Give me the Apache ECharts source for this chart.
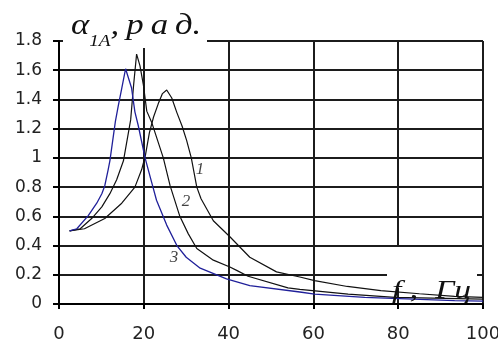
<!DOCTYPE html>
<html>
<head>
<meta charset="utf-8">
<script src="https://cdn.jsdelivr.net/npm/echarts@6/dist/echarts.min.js"></script>
<style>
  html, body { margin: 0; padding: 0; background: #fff; }
  #chart { width: 498px; height: 344px; }
</style>
</head>
<body>
<div id="chart"></div>
<script>
// curve 1
const freq1 = [2.5, 6, 10.8, 14.8, 17.9, 19.5, 20.4, 21.3, 22.3, 23.4, 24.4, 25.4, 26.6, 27.8, 29, 30.1, 31.2, 32.5, 33.5, 36.4, 40.3, 45, 51.3, 56.8, 60.3, 68, 75.9, 85, 93.3, 100];
const alpha1 = [0.5, 0.515, 0.585, 0.69, 0.8, 0.92, 1.02, 1.17, 1.28, 1.37, 1.44, 1.465, 1.41, 1.31, 1.22, 1.12, 1.0, 0.8, 0.72, 0.57, 0.46, 0.32, 0.22, 0.185, 0.16, 0.12, 0.092, 0.07, 0.052, 0.045];
// curve 2
const freq2 = [2.5, 5, 7.7, 10.1, 12, 13.6, 15.2, 16.9, 17.6, 18.3, 19.1, 19.9, 20.7, 21.9, 24.6, 26.2, 28.5, 30.5, 32.5, 36.4, 40.3, 41.9, 44.6, 54, 56.8, 68.2, 79.2, 100];
const alpha2 = [0.5, 0.515, 0.585, 0.665, 0.755, 0.85, 0.98, 1.26, 1.5, 1.71, 1.63, 1.5, 1.32, 1.24, 1.0, 0.81, 0.6, 0.48, 0.38, 0.3, 0.253, 0.23, 0.19, 0.11, 0.1, 0.068, 0.045, 0.034];
// curve 3 (blue)
const freq3 = [2.5, 4.2, 6.9, 8.9, 10.1, 10.8, 11.6, 12, 13.3, 14, 14.8, 15.7, 17.1, 17.9, 18.7, 20.3, 21.6, 23, 25.4, 27.8, 30, 33.3, 39.5, 45, 56.8, 60.3, 72.1, 93.3, 100];
const alpha3 = [0.5, 0.515, 0.605, 0.69, 0.755, 0.81, 0.92, 0.98, 1.25, 1.36, 1.475, 1.61, 1.48, 1.315, 1.22, 1.0, 0.86, 0.71, 0.54, 0.4, 0.32, 0.245, 0.172, 0.126, 0.082, 0.068, 0.045, 0.023, 0.02];

// curve numbers
const labelText = ['1', '2', '3'];
const labelFreq = [33.25, 29.95, 27.1];
const labelAlpha = [0.923, 0.703, 0.316];

const yTicks = { min: 0, max: 1.8, interval: 0.2 };
const xTicks = { min: 0, max: 100, interval: 20 };

function pairs (xs, ys) {
  return xs.map(function (x, i) { return [x, ys[i]]; });
}

const chart = echarts.init(document.getElementById('chart'), null, { renderer: 'canvas' });

const lineBase = {
  type: 'line',
  symbol: 'none',
  smooth: false,
  silent: true,
  z: 3
};

// grid lines are ~2px in the picture
const gridLine = { color: '#1c1c1c', width: 2 };

const option = {
  backgroundColor: '#fff',
  animation: false,
  grid: { left: 59, right: 15, top: 41, bottom: 40, outerBoundsMode: 'none', containLabel: false },
  xAxis: {
    type: 'value',
    min: xTicks.min,
    max: xTicks.max,
    interval: xTicks.interval,
    axisLine: { show: true, onZero: false, lineStyle: { color: '#000', width: 2 } },
    axisTick: { show: true, length: 5, lineStyle: { color: '#000', width: 2 } },
    axisLabel: {
      margin: 21,
      color: '#222',
      fontFamily: 'DejaVu Sans',
      fontSize: 18,
      showMaxLabel: true,
      hideOverlap: false
    },
    splitLine: { show: true, lineStyle: gridLine }
  },
  yAxis: {
    type: 'value',
    min: yTicks.min,
    max: yTicks.max,
    interval: yTicks.interval,
    axisLine: { show: true, lineStyle: { color: '#000', width: 2 } },
    axisTick: { show: true, length: 6, lineStyle: { color: '#000', width: 2 } },
    axisLabel: {
      margin: 17,
      color: '#222',
      fontFamily: 'DejaVu Sans',
      fontSize: 17
    },
    splitLine: { show: true, lineStyle: gridLine }
  },
  series: [
    Object.assign({}, lineBase, {
      name: '1',
      data: pairs(freq1, alpha1),
      lineStyle: { color: '#111', width: 1.2 }
    }),
    Object.assign({}, lineBase, {
      name: '2',
      data: pairs(freq2, alpha2),
      lineStyle: { color: '#111', width: 1.2 }
    }),
    Object.assign({}, lineBase, {
      name: '3',
      data: pairs(freq3, alpha3),
      lineStyle: { color: '#20209a', width: 1.3 }
    }),
    {
      type: 'scatter',
      symbolSize: 0,
      silent: true,
      z: 5,
      data: pairs(labelFreq, labelAlpha).map(function (p, i) {
        return { value: p, label: { formatter: labelText[i] } };
      }),
      label: {
        show: true,
        position: 'inside',
        color: '#111',
        fontFamily: 'Liberation Serif',
        fontStyle: 'italic',
        fontSize: 17
      }
    }
  ],
  graphic: [
    // y title on a white patch over the top grid line
    {
      type: 'rect',
      z: 10,
      shape: { x: 63, y: 0, width: 144, height: 48 },
      style: { fill: '#fff' }
    },
    {
      type: 'text',
      z: 11,
      x: 71,
      y: 41,
      scaleX: 1.2,
      style: {
        text: '{a|α}{s|1А}{a|,\u2009р\u2009а\u2009д.}',
        verticalAlign: 'bottom',
        fill: '#111',
        rich: {
          a: { fontFamily: 'Liberation Serif', fontStyle: 'italic', fontSize: 29, fill: '#111', verticalAlign: 'bottom' },
          s: { fontFamily: 'Liberation Serif', fontStyle: 'italic', fontSize: 16, fill: '#111', verticalAlign: 'bottom', padding: [0, 0, -9, 0] }
        }
      }
    },
    // x title
    {
      type: 'rect',
      z: 10,
      shape: { x: 387, y: 247, width: 90, height: 41 },
      style: { fill: '#fff' }
    },
    {
      type: 'text',
      z: 11,
      x: 392,
      y: 279,
      scaleX: 1.35,
      style: {
        text: 'f ,  Гц',
        verticalAlign: 'alphabetic',
        fill: '#111',
        fontFamily: 'Liberation Serif',
        fontStyle: 'italic',
        fontSize: 25
      }
    }
  ]
};

chart.setOption(option);
</script>
</body>
</html>
